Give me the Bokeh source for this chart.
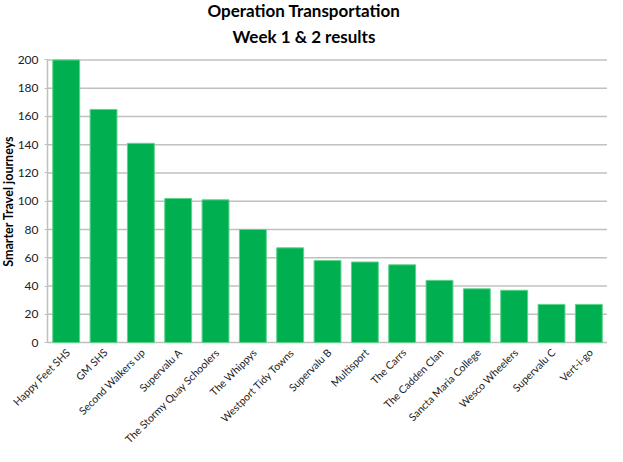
from math import pi
from bokeh.plotting import figure
from bokeh.models import ColumnDataSource, Title, FixedTicker, Range1d, LabelSet, Label
from bokeh.core.properties import value
from bokeh.embed import file_html
from bokeh.resources import INLINE

teams = ["Happy Feet SHS", "GM SHS", "Second Walkers up", "Supervalu A",
         "The Stormy Quay Schoolers", "The Whippys", "Westport Tidy Towns",
         "Supervalu B", "Multisport", "The Carrs", "The Cadden Clan",
         "Sancta Maria College", "Wesco Wheelers", "Supervalu C", "Vert-i-go"]
journeys = [200, 165, 141, 102, 101, 80, 67, 58, 57, 55, 44, 38, 37, 27, 27]
y_ticks = [0, 20, 40, 60, 80, 100, 120, 140, 160, 180, 200]

FONT = "Lato"
n = len(teams)
left_edge, right_edge = -0.5, n - 0.5

src = ColumnDataSource(data=dict(idx=list(range(n)), team=teams,
                                 journeys=journeys, base=[y_ticks[0]] * n))
grid_src = ColumnDataSource(data=dict(y=y_ticks, x0=[left_edge] * len(y_ticks),
                                      x1=[right_edge] * len(y_ticks)))

# the frame covers the whole figure below the titles, so the rotated
# category names, the axis and its title all sit inside it
p = figure(x_range=Range1d(-1.76, right_edge), y_range=Range1d(-73.6, 206),
           width=607, height=446,
           output_backend="svg", toolbar_location=None,
           min_border_left=0, min_border_right=0, min_border_top=0,
           min_border_bottom=0)

p.segment(x0="x0", y0="y", x1="x1", y1="y", source=grid_src,
          line_color="#c0c0c0", line_width=1.5)

p.vbar(x="idx", top="journeys", width=0.72, source=src,
       fill_color="#00b050", line_color="#5cd48a", line_width=1)

labels = LabelSet(x="idx", y="base", text="team", source=src,
                  angle=pi / 4, text_align="right", text_baseline="middle",
                  x_offset=2, y_offset=-8,
                  text_font=value(FONT), text_font_size="10.5px",
                  text_color="#222222")
p.add_layout(labels)

p.add_layout(Label(x=-1.546, y=(y_ticks[0] + y_ticks[-1]) / 2,
                   text="Smarter Travel journeys", angle=pi / 2,
                   text_align="center", text_baseline="middle",
                   text_font=FONT, text_font_size="12.5px", text_font_style="bold",
                   text_color="#000000"))

p.add_layout(Title(text="Week 1 & 2 results", align="left", offset=232,
                   text_font=FONT, text_font_size="17px", text_font_style="bold",
                   text_color="#000000", standoff=10), "above")
p.add_layout(Title(text="Operation Transportation", align="left", offset=207,
                   text_font=FONT, text_font_size="17px", text_font_style="bold",
                   text_color="#000000", standoff=-5), "above")

p.outline_line_color = None
p.xgrid.grid_line_color = None
p.ygrid.grid_line_color = None

p.xaxis.visible = False

p.yaxis.fixed_location = left_edge
p.yaxis.bounds = (y_ticks[0], y_ticks[-1])
p.yaxis.ticker = FixedTicker(ticks=y_ticks)
p.yaxis.major_label_text_font = FONT
p.yaxis.major_label_text_font_size = "12px"
p.yaxis.major_label_text_color = "#222222"
p.yaxis.major_label_standoff = 6
p.yaxis.axis_line_color = "#c0c0c0"
p.yaxis.axis_line_width = 1.5
p.yaxis.major_tick_line_color = "#c0c0c0"
p.yaxis.major_tick_out = 3
p.yaxis.major_tick_in = 0
p.yaxis.minor_tick_line_color = None

open("out.html", "w").write(file_html(p, INLINE))
